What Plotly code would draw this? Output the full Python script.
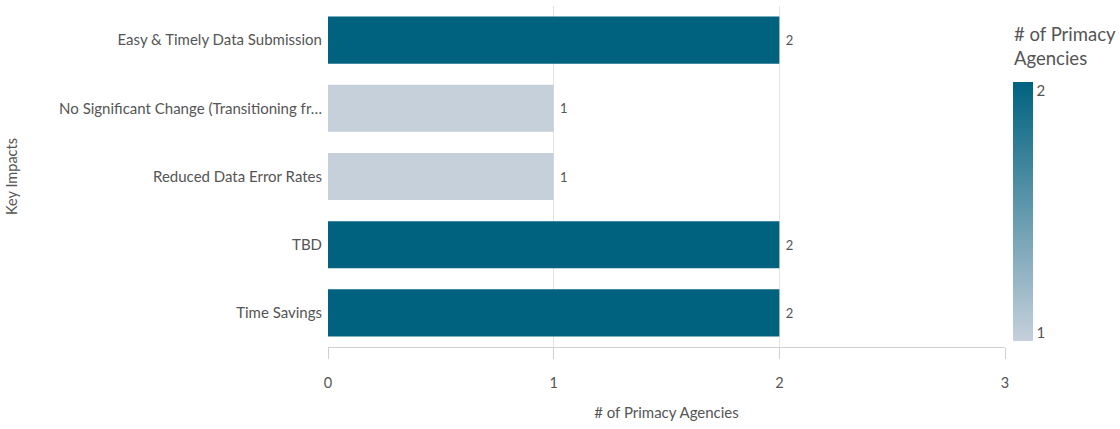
import plotly.graph_objects as go

categories = [
    "Easy & Timely Data Submission",
    "No Significant Change (Transitioning fr…",
    "Reduced Data Error Rates",
    "TBD",
    "Time Savings",
]
values = [2, 1, 1, 2, 2]
x_ticks = [0, 1, 2, 3]
cbar_ticks = ["1", "2"]

FONT = "Lato"
GRAY = "#555555"

PLOT_L, PLOT_R, PLOT_T, PLOT_B = 328, 1005, 6, 347
PW, PH = PLOT_R - PLOT_L, PLOT_B - PLOT_T
CB_TOP, CB_BOT = 82, 341
# colorbar labels sit slightly inside the ends of the gradient
inset = 8 / (CB_BOT - CB_TOP - 16)

fig = go.Figure(
    go.Bar(
        x=values,
        y=categories,
        orientation="h",
        marker=dict(color=values, coloraxis="coloraxis", line=dict(width=0)),
        texttemplate=" %{x}",
        textposition="outside",
        textfont=dict(family=FONT, size=13, color=GRAY),
        cliponaxis=False,
        hoverinfo="x+y",
    )
)

fig.update_layout(
    width=1120,
    height=429,
    margin=dict(l=PLOT_L, r=1120 - PLOT_R, t=PLOT_T, b=429 - PLOT_B, autoexpand=False),
    paper_bgcolor="white",
    plot_bgcolor="white",
    font=dict(family=FONT, size=14, color=GRAY),
    bargap=0.31,
    showlegend=False,
    coloraxis=dict(
        cmin=1,
        cmax=2,
        colorscale=[[0, "#c5d0db"], [1, "#00627f"]],
        colorbar=dict(
            x=(1003 - PLOT_L) / PW,
            xanchor="left",
            xpad=10,
            y=(PLOT_B - CB_TOP) / PH,
            yanchor="top",
            ypad=0,
            len=(CB_BOT - CB_TOP) / PH,
            lenmode="fraction",
            thickness=20,
            outlinewidth=0,
            tickvals=[1 + inset, 2 - inset],
            ticktext=cbar_ticks,
            ticks="",
            tickfont=dict(family=FONT, size=15, color=GRAY),
        ),
    ),
    annotations=[
        dict(
            text="# of Primacy<br>Agencies",
            xref="paper", yref="paper",
            x=(1013 - PLOT_L) / PW, y=(PLOT_B - 21) / PH,
            xanchor="left", yanchor="top", align="left",
            xshift=-1,
            showarrow=False,
            font=dict(family=FONT, size=18.5, color=GRAY),
        )
    ],
    xaxis=dict(
        range=[0, 3],
        tickvals=x_ticks,
        showgrid=True,
        gridcolor="#e3e3e3",
        gridwidth=1,
        zeroline=False,
        showline=True,
        linecolor="#d0d0d0",
        ticks="outside",
        ticklen=11,
        tickcolor="#d0d0d0",
        ticklabelstandoff=12,
        tickfont=dict(family=FONT, size=14.5, color=GRAY),
        title=dict(text="# of Primacy Agencies", font=dict(family=FONT, size=15, color=GRAY), standoff=17),
        automargin=False,
        fixedrange=True,
    ),
    yaxis=dict(
        autorange="reversed",
        showgrid=False,
        ticks="",
        ticklabelstandoff=5,
        tickfont=dict(family=FONT, size=15, color=GRAY),
        title=dict(text="Key Impacts", font=dict(family=FONT, size=14.5, color=GRAY), standoff=38),
        automargin=False,
    ),
)

fig.write_html(
    "out.html",
    config={"displayModeBar": False},
    post_script="document.body.style.margin='0';",
)
